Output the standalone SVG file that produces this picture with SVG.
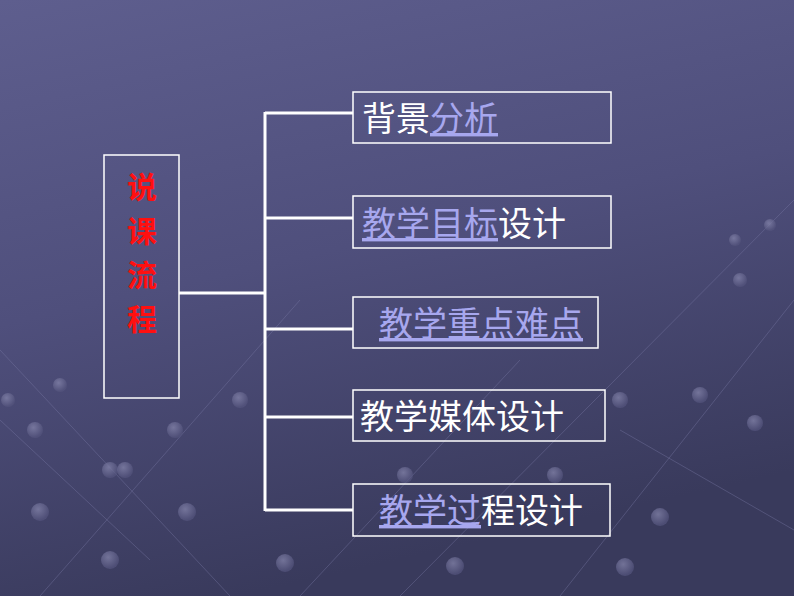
<svg xmlns="http://www.w3.org/2000/svg" width="794" height="596" viewBox="0 0 794 596">
<defs>
<linearGradient id="bg" x1="0" y1="0" x2="0.3" y2="1">
<stop offset="0" stop-color="#5e5e8e"/>
<stop offset="0.5" stop-color="#4f4f7c"/>
<stop offset="1" stop-color="#393a5c"/>
</linearGradient>
<radialGradient id="dot" cx="0.4" cy="0.35" r="0.6">
<stop offset="0" stop-color="#8a8ab0"/>
<stop offset="1" stop-color="#55557e"/>
</radialGradient>
<style>
.box{fill:none;stroke:#ffffff;stroke-width:1.5}
.ln{stroke:#ffffff;stroke-width:3;fill:none}
.t{font-family:"Liberation Sans","Noto Sans CJK SC",sans-serif;font-size:34px;fill:#ffffff}
.lk{fill:#a7a7ee;text-decoration:underline}
.red{font-family:"Noto Sans CJK SC",serif;font-size:30px;font-weight:bold;fill:#ff1010}
.g{stroke:#7a7aa6;stroke-width:0.8;opacity:0.5}
.d{fill:url(#dot);opacity:0.7}
</style>
</defs>
<rect width="794" height="596" fill="url(#bg)"/>
<g id="grid">
<line class="g" x1="0" y1="350" x2="230" y2="596"/>
<line class="g" x1="0" y1="420" x2="150" y2="560"/>
<line class="g" x1="40" y1="596" x2="300" y2="300"/>
<line class="g" x1="300" y1="596" x2="520" y2="360"/>
<line class="g" x1="560" y1="596" x2="794" y2="300"/>
<line class="g" x1="400" y1="596" x2="794" y2="200"/>
<line class="g" x1="620" y1="430" x2="794" y2="530"/>
<circle class="d" cx="40" cy="512" r="9"/><circle class="d" cx="110" cy="470" r="8"/>
<circle class="d" cx="125" cy="470" r="8"/><circle class="d" cx="187" cy="512" r="9"/>
<circle class="d" cx="35" cy="430" r="8"/><circle class="d" cx="8" cy="400" r="7"/>
<circle class="d" cx="110" cy="560" r="9"/><circle class="d" cx="285" cy="563" r="9"/>
<circle class="d" cx="455" cy="566" r="9"/><circle class="d" cx="625" cy="567" r="9"/>
<circle class="d" cx="660" cy="517" r="9"/><circle class="d" cx="755" cy="423" r="8"/>
<circle class="d" cx="700" cy="395" r="8"/><circle class="d" cx="740" cy="280" r="7"/>
<circle class="d" cx="735" cy="240" r="6"/><circle class="d" cx="770" cy="225" r="6"/>
<circle class="d" cx="405" cy="475" r="8"/><circle class="d" cx="555" cy="475" r="8"/>
<circle class="d" cx="240" cy="400" r="8"/><circle class="d" cx="175" cy="430" r="8"/>
<circle class="d" cx="60" cy="385" r="7"/><circle class="d" cx="620" cy="400" r="8"/>
</g>
<g id="connectors">
<line class="ln" x1="265" y1="112" x2="265" y2="511"/>
<line class="ln" x1="179" y1="293" x2="265" y2="293"/>
<line class="ln" x1="265" y1="113" x2="353" y2="113"/>
<line class="ln" x1="265" y1="218" x2="353" y2="218"/>
<line class="ln" x1="265" y1="329" x2="353" y2="329"/>
<line class="ln" x1="265" y1="417" x2="353" y2="417"/>
<line class="ln" x1="265" y1="510" x2="353" y2="510"/>
</g>
<g id="root">
<rect class="box" x="104" y="155" width="75" height="243"/>
<text class="red" x="142" y="198" text-anchor="middle">说</text>
<text class="red" x="142" y="242" text-anchor="middle">课</text>
<text class="red" x="142" y="286" text-anchor="middle">流</text>
<text class="red" x="142" y="330" text-anchor="middle">程</text>
</g>
<g id="n1">
<rect class="box" x="353" y="92" width="258" height="51"/>
<text class="t" x="362" y="131">背景<tspan class="lk">分析</tspan></text>
</g>
<g id="n2">
<rect class="box" x="353" y="196" width="258" height="52"/>
<text class="t" x="362" y="236"><tspan class="lk"> 教学目标</tspan>设计</text>
</g>
<g id="n3">
<rect class="box" x="353" y="297" width="245" height="51"/>
<text class="t" x="379" y="336"><tspan class="lk">教学重点难点</tspan></text>
</g>
<g id="n4">
<rect class="box" x="353" y="390" width="252" height="51"/>
<text class="t" x="360" y="429">教学媒体设计</text>
</g>
<g id="n5">
<rect class="box" x="353" y="484" width="257" height="52"/>
<text class="t" x="379" y="523"><tspan class="lk">教学过</tspan>程设计</text>
</g>
</svg>
